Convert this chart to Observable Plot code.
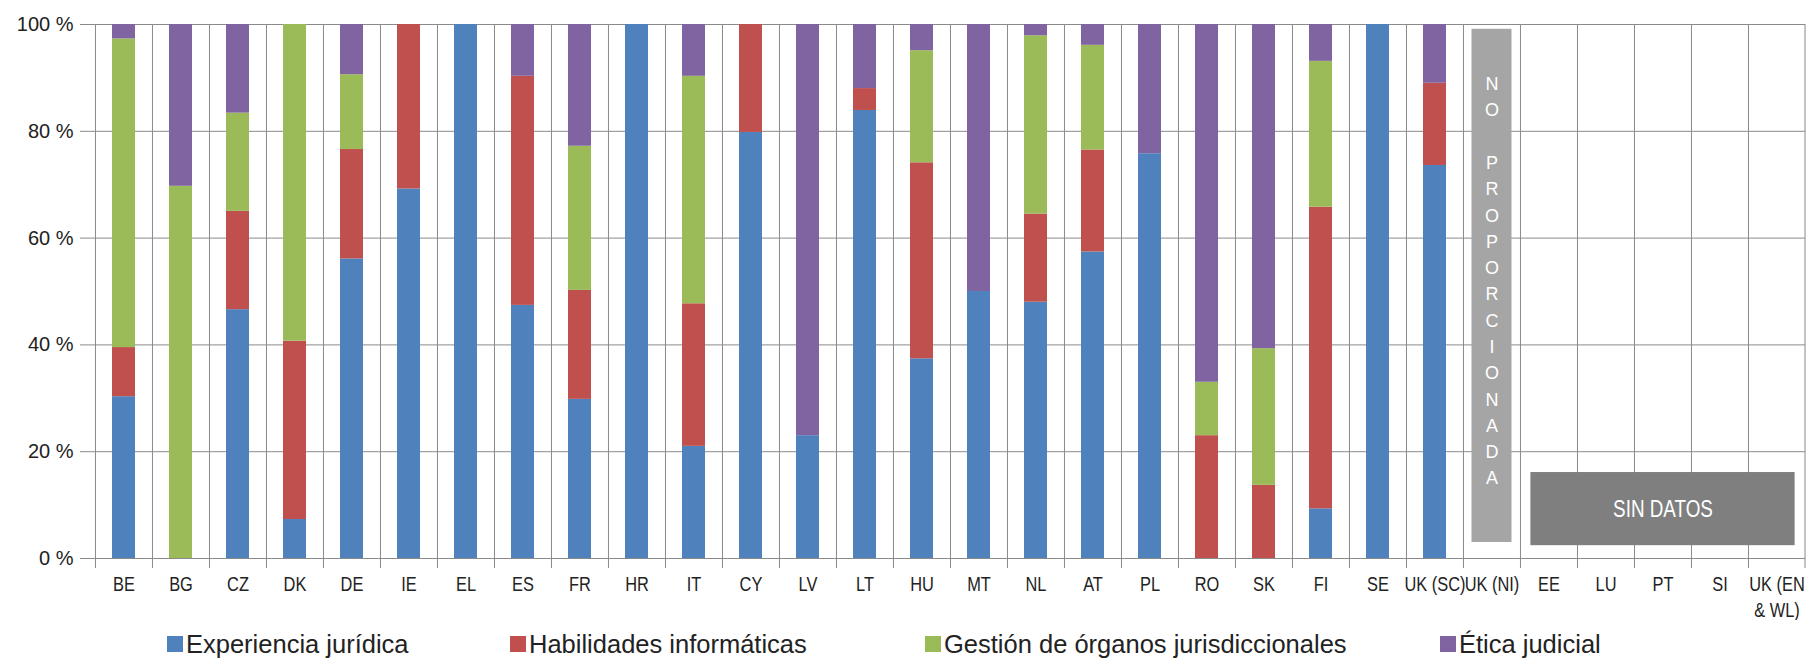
<!DOCTYPE html>
<html><head><meta charset="utf-8">
<script src="https://cdn.jsdelivr.net/npm/d3@7"></script>
<script src="https://cdn.jsdelivr.net/npm/@observablehq/plot@0.6"></script>
<style>
body{margin:0;background:#fff;font-family:"Liberation Sans",Arial,sans-serif;}
#legend{position:relative;width:1806px;height:42px;}
.item{position:absolute;top:6px;height:36px;display:flex;align-items:center;font-size:25.5px;color:#222;white-space:nowrap;}
.sw{width:16px;height:16px;margin-right:3px;flex:none;}
</style></head><body>
<div id="chart"></div><div id="legend"></div>
<script>
const categories = ["BE","BG","CZ","DK","DE","IE","EL","ES","FR","HR","IT","CY","LV","LT","HU","MT","NL","AT","PL","RO","SK","FI","SE","UK (SC)","UK (NI)","EE","LU","PT","SI","UK (EN & WL)"];
const tickLabels = ["BE","BG","CZ","DK","DE","IE","EL","ES","FR","HR","IT","CY","LV","LT","HU","MT","NL","AT","PL","RO","SK","FI","SE","UK (SC)","UK (NI)","EE","LU","PT","SI","UK (EN\n& WL)"];
const series = ["Experiencia jurídica","Habilidades informáticas","Gestión de órganos jurisdiccionales","Ética judicial"];
const colors = ["#4f81bd","#c0504d","#9bbb59","#8064a2"];
const yTicks = [0,20,40,60,80,100];
// values (percent) for the first 24 categories (BE .. UK (SC))
const experiencia = [30.3,0,46.6,7.3,56.1,69.2,100,47.4,29.8,100,21.0,79.8,23.0,83.9,37.4,50.0,48.0,57.4,75.8,0,0,9.3,100,73.6];
const informatica = [9.2,0,18.4,33.4,20.5,30.8,0,42.9,20.4,0,26.7,20.2,0,4.1,36.7,0,16.5,19.1,0,23.0,13.7,56.5,0,15.4];
const gestion     = [57.8,69.7,18.4,59.3,14.0,0,0,0,27.0,0,42.6,0,0,0,21.0,0,33.4,19.6,0,10.0,25.6,27.3,0,0];
const etica       = [2.7,30.3,16.6,0,9.4,0,0,9.7,22.8,0,9.7,0,77.0,12.0,4.9,50.0,2.1,3.9,24.2,67.0,60.7,6.9,0,11.0];
// annotation boxes
const noProporcionada = [{cat:"UK (NI)", from:3.0, to:99.1, label:"N\nO\n\u00a0\nP\nR\nO\nP\nO\nR\nC\nI\nO\nN\nA\nD\nA", labelY:91.2}];
const sinDatos = [{cat:"PT", from:2.4, to:16.1, label:"SIN DATOS", labelY:9.2}];

const seriesValues = [experiencia, informatica, gestion, etica];
const data = [];
experiencia.forEach((_, i) => {
  series.forEach((s, k) => data.push({cat: categories[i], series: s, value: seriesValues[k][i]}));
});
const labelOf = Object.fromEntries(categories.map((c, i) => [c, tickLabels[i]]));

const W = 1806, H = 620, ML = 94, MR = 1, MT = 24, MB = 62;
const step = (W - ML - MR) / categories.length;
const grid = "#8a8a8a";

const chart = Plot.plot({
  width: W, height: H, marginLeft: ML, marginRight: MR, marginTop: MT, marginBottom: MB,
  style: {fontFamily: "'Liberation Sans', Arial, sans-serif", background: "#fff", color: "#222"},
  x: {domain: categories, paddingInner: 0.6, paddingOuter: 0.3, axis: null},
  y: {domain: [0, 100], axis: null},
  color: {domain: series, range: colors},
  marks: [
    Plot.ruleY(yTicks, {stroke: grid, strokeWidth: 1}),
    Plot.ruleX(categories, {x: d => d, dx: -step / 2, stroke: grid, insetBottom: -10}),
    Plot.ruleX(categories.slice(-1), {x: d => d, dx: step / 2 - 0.5, stroke: grid, insetBottom: -10}),
    Plot.barY(data, {x: "cat", y: "value", fill: "series"}),
    Plot.barY(noProporcionada, {x: "cat", y1: "from", y2: "to", fill: "#a5a5a5", insetLeft: -8.5, insetRight: -8.5}),
    Plot.text(noProporcionada, {x: "cat", y: "labelY", text: "label", fill: "white", fontSize: 18, lineHeight: 1.46, lineAnchor: "top"}),
    Plot.barY(sinDatos, {x: "cat", y1: "from", y2: "to", fill: "#7f7f7f", insetLeft: -120.6, insetRight: -120.6}),
    Plot.text(sinDatos, {x: "cat", y: "labelY", text: "label", fill: "white", fontSize: 23, className: "sindatos"}),
    Plot.axisY({ticks: yTicks, tickFormat: d => d + " %", tickSize: 14, tickPadding: 7, fontSize: 20, stroke: grid, label: null}),
    Plot.axisX({tickSize: 0, tickPadding: 14, fontSize: 20, tickFormat: d => labelOf[d], lineHeight: 1.3, label: null, className: "xaxis"})
  ]
});
document.getElementById("chart").appendChild(chart);
// condensed look of the category labels
d3.select(chart).selectAll(".xaxis text, .sindatos text").each(function () {
  const t = this.getAttribute("transform") || "";
  this.setAttribute("transform", t + " scale(0.82,1)");
});

const legendLefts = [167, 510, 925, 1440];
const legend = document.getElementById("legend");
series.forEach((s, k) => {
  const it = document.createElement("div");
  it.className = "item";
  it.style.left = legendLefts[k] + "px";
  it.innerHTML = `<span class="sw" style="background:${colors[k]}"></span><span>${s}</span>`;
  legend.appendChild(it);
});
</script>
</body></html>
